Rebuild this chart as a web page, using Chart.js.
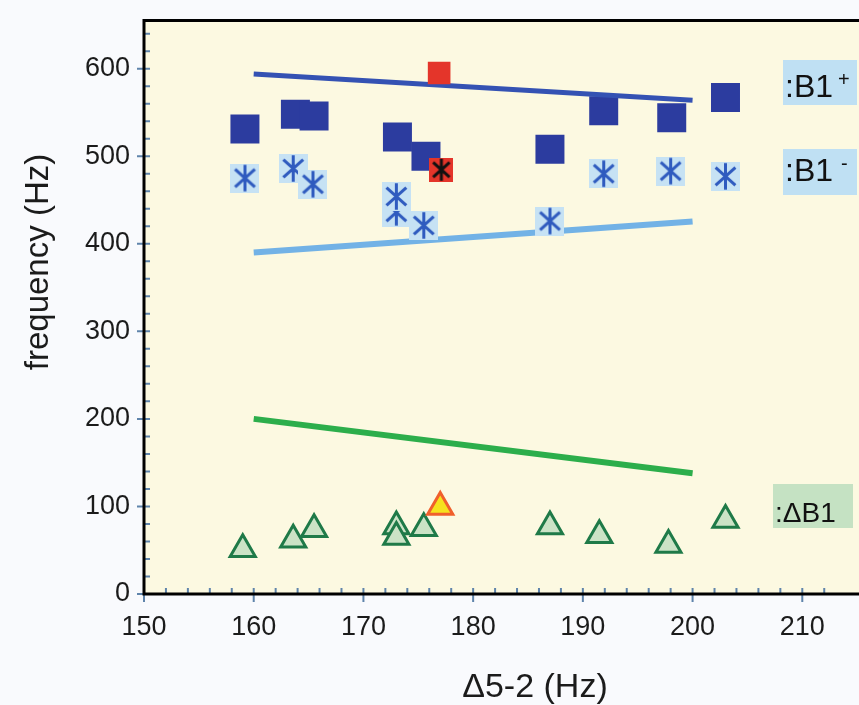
<!DOCTYPE html>
<html>
<head>
<meta charset="utf-8">
<script src="https://cdn.jsdelivr.net/npm/chart.js@4.4.1/dist/chart.umd.min.js"></script>
<style>
  html, body { margin: 0; padding: 0; background: #f9fafd; }
  #wrap { width: 859px; height: 705px; }
</style>
</head>
<body>
<div id="wrap"><canvas id="chart" width="859" height="705"></canvas></div>
<script>
// Ticks
const xTicks = [150, 160, 170, 180, 190, 200, 210];
const yTicks = [0, 100, 200, 300, 400, 500, 600];

// B1+ (squares)
const b1PlusX = [159.2, 163.8, 165.5, 173.1, 175.7, 187.0, 191.9, 198.1];
const b1PlusY = [531, 548, 546, 522, 500, 508, 552, 544];

// B1- (asterisks)
const b1MinusX = [159.2, 163.6, 165.4, 173.0, 173.0, 175.5, 187.0, 191.9, 198.0];
const b1MinusY = [475, 486, 468, 436, 454, 421, 426, 480, 483];

// ΔB1 (triangles)
const dB1X = [159.0, 163.6, 165.5, 173.0, 173.0, 175.5, 187.0, 191.5, 197.8];
const dB1Y = [51, 62, 74, 77, 65, 75, 77, 67, 56];

// highlighted (red) points: B1+, B1-, ΔB1
const hlX = [176.9, 177.1, 177.0];
const hlY = [595, 484.6, 99.3];

// fitted lines
const fitX = [160, 200];
const b1PlusFit = [594, 564];
const b1MinusFit = [390, 425.5];
const dB1Fit = [200, 138];

// key markers
const keyX = [203, 203, 203];
const keyY = [567, 477, 84.6];
const keyText = [':B1', ':B1', ':\u0394B1'];
const keySup = ['+', '-', ''];

const pts = (xs, ys) => xs.map((x, i) => ({ x: x, y: ys[i] }));

// asterisk marker on a square background
function asterisk(size, bg, fg) {
    const c = document.createElement('canvas');
    c.width = size; c.height = size;
    const g = c.getContext('2d');
    g.fillStyle = bg;
    g.fillRect(0, 0, size, size);
    g.strokeStyle = fg;
    g.lineWidth = 3;
    const m = size / 2, r = size * 0.46, a = 42 * Math.PI / 180;
    g.beginPath();
    g.moveTo(m, m - r); g.lineTo(m, m + r);
    g.moveTo(m - r * Math.cos(a), m - r * Math.sin(a)); g.lineTo(m + r * Math.cos(a), m + r * Math.sin(a));
    g.moveTo(m - r * Math.cos(a), m + r * Math.sin(a)); g.lineTo(m + r * Math.cos(a), m - r * Math.sin(a));
    g.stroke();
    return c;
}
const blueStar = asterisk(29, '#c6e2f4', '#2f5bbf');
const redStar = asterisk(24, '#e4352a', '#111111');

const SQ = '#2c3c9f', TRI_FILL = '#cbe3c6', TRI_LINE = '#1f7a48';

// fondo del área, marcas de eje y marco
const frame = {
    id: 'frame',
    beforeDraw(chart) {
        const { ctx, chartArea: a } = chart;
        ctx.save();
        ctx.fillStyle = '#fcf9e1';
        ctx.fillRect(a.left, a.top, chart.width - a.left, a.bottom - a.top);
        ctx.restore();
    },
    beforeDatasetsDraw(chart) {
        const { ctx, chartArea: a, scales: { x, y } } = chart;
        ctx.save();
        ctx.strokeStyle = '#5f84ab';
        ctx.lineWidth = 2;
        ctx.beginPath();
        for (let v = 150; v <= x.max; v += 2) {
            const px = x.getPixelForValue(v);
            ctx.moveTo(px, a.bottom - 6);
            ctx.lineTo(px, a.bottom + (v % 10 === 0 ? 8 : 0));
        }
        for (let v = 0; v <= y.max; v += 20) {
            const py = y.getPixelForValue(v);
            ctx.moveTo(a.left + 6, py);
            ctx.lineTo(a.left - (v % 100 === 0 ? 7 : 0), py);
        }
        ctx.stroke();
        ctx.strokeStyle = '#000';
        ctx.lineWidth = 3;
        ctx.beginPath();
        ctx.moveTo(chart.width, a.top);
        ctx.lineTo(a.left, a.top);
        ctx.lineTo(a.left, a.bottom);
        ctx.lineTo(chart.width, a.bottom);
        ctx.stroke();
        ctx.restore();
    },
    afterDraw(chart) {
        const { ctx } = chart;
        ctx.save();
        ctx.fillStyle = '#1b1b1b';
        // títulos de ejes
        ctx.font = '34px "Liberation Sans", Arial, sans-serif';
        ctx.textAlign = 'center';
        ctx.textBaseline = 'alphabetic';
        ctx.fillText('\u03945-2 (Hz)', 535, 697);
        ctx.save();
        ctx.translate(48, 262);
        ctx.rotate(-Math.PI / 2);
        ctx.font = '33px "Liberation Sans", Arial, sans-serif';
        ctx.fillText('frequency (Hz)', 0, 0);
        ctx.restore();
        // etiquetas de la clave
        const boxes = [
            { x: 783, y: 60, w: 74, h: 45, bg: '#bfe0f3', tx: 785, ty: 97, size: 32, sx: 838, sy: 86 },
            { x: 783, y: 149, w: 74, h: 46, bg: '#bfe0f3', tx: 785, ty: 181, size: 32, sx: 841, sy: 170 },
            { x: 773, y: 484, w: 80, h: 44, bg: '#c5e2c3', tx: 775, ty: 522, size: 28, sx: 0, sy: 0 }
        ];
        ctx.textAlign = 'left';
        boxes.forEach((b, i) => {
            ctx.fillStyle = b.bg;
            ctx.fillRect(b.x, b.y, b.w, b.h);
            ctx.fillStyle = '#111';
            ctx.font = b.size + 'px "Liberation Sans", Arial, sans-serif';
            ctx.fillText(keyText[i], b.tx, b.ty);
            if (keySup[i]) {
                ctx.font = '20px "Liberation Sans", Arial, sans-serif';
                ctx.fillText(keySup[i], b.sx, b.sy);
            }
        });
        ctx.restore();
    }
};

const tickFont = { family: '"Liberation Sans", Arial, sans-serif', size: 27 };

new Chart(document.getElementById('chart'), {
    type: 'scatter',
    data: {
        datasets: [
            {
                label: 'highlight',
                data: pts(hlX, hlY),
                pointStyle: ['rect', redStar, 'triangle'],
                pointRadius: [16, 12, 14.5],
                backgroundColor: ['#e4352a', '#e4352a', '#f6e21e'],
                borderColor: ['#e4352a', '#e4352a', '#f0602c'],
                borderWidth: [0, 0, 3]
            },
            {
                label: 'key',
                data: pts(keyX, keyY),
                pointStyle: ['rect', blueStar, 'triangle'],
                pointRadius: [20.5, 14, 14.5],
                backgroundColor: [SQ, SQ, TRI_FILL],
                borderColor: [SQ, SQ, TRI_LINE],
                borderWidth: [0, 0, 3]
            },
            {
                label: 'B1-',
                data: pts(b1MinusX, b1MinusY),
                pointStyle: blueStar,
                pointRadius: 14
            },
            {
                type: 'line',
                label: 'B1+ fit',
                data: pts(fitX, b1PlusFit),
                borderColor: '#3452b3',
                borderWidth: 5,
                pointRadius: 0
            },
            {
                label: 'B1+',
                data: pts(b1PlusX, b1PlusY),
                pointStyle: 'rect',
                pointRadius: 20.5,
                backgroundColor: SQ,
                borderWidth: 0
            },
            {
                type: 'line',
                label: 'B1- fit',
                data: pts(fitX, b1MinusFit),
                borderColor: '#72b2e6',
                borderWidth: 6,
                pointRadius: 0
            },
            {
                label: '\u0394B1',
                data: pts(dB1X, dB1Y),
                pointStyle: 'triangle',
                pointRadius: 14.5,
                backgroundColor: TRI_FILL,
                borderColor: TRI_LINE,
                borderWidth: 3
            },
            {
                type: 'line',
                label: '\u0394B1 fit',
                data: pts(fitX, dB1Fit),
                borderColor: '#2cae4b',
                borderWidth: 6,
                pointRadius: 0
            }
        ]
    },
    options: {
        responsive: false,
        animation: false,
        events: [],
        layout: { padding: { top: 10, right: 0, left: 0, bottom: 0 } },
        plugins: { legend: { display: false }, tooltip: { enabled: false } },
        scales: {
            x: {
                type: 'linear',
                min: 150,
                max: 213.3,
                afterBuildTicks: s => { s.ticks = xTicks.map(v => ({ value: v })); },
                afterFit: s => { s.height = 111; s.paddingLeft = 0; s.paddingRight = 0; },
                grid: { display: false, drawTicks: false },
                border: { display: false },
                ticks: { font: tickFont, color: '#1b1b1b', padding: 17 }
            },
            y: {
                type: 'linear',
                min: 0,
                max: 655,
                afterBuildTicks: s => { s.ticks = yTicks.map(v => ({ value: v })); },
                afterFit: s => { s.width = 144; s.paddingTop = 0; s.paddingBottom = 0; },
                grid: { display: false, drawTicks: false },
                border: { display: false },
                ticks: { font: tickFont, color: '#1b1b1b', padding: 14 }
            }
        }
    },
    plugins: [frame]
});
</script>
</body>
</html>
